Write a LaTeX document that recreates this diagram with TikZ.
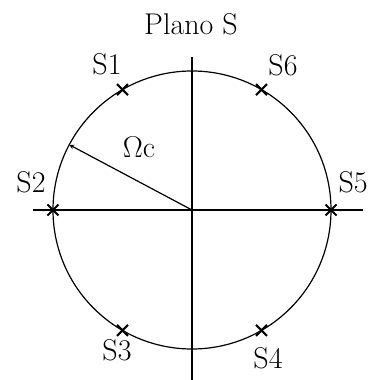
\RequirePackage{fix-cm}
\documentclass[tikz,border=0pt]{standalone}
\usepackage{tikz}
\usetikzlibrary{shapes.misc}

\tikzset{
    pole/.style={cross out, draw, line width=2pt, minimum size=9pt, inner sep=0pt},
    lbl/.style={inner sep=0pt, font=\fontsize{30}{36}\selectfont}
}

\begin{document}
\begin{tikzpicture}[x=1pt, y=1pt, line width=1.2pt]
    \useasboundingbox (-192,-170) rectangle (177,210);
    \def\R{139}

    \coordinate (O) at (0,0);

    % The axes
    \coordinate (xl) at (-159,0);
    \coordinate (xr) at (171,0);
    \coordinate (yt) at (0,153);
    \coordinate (yb) at (0,-172);
    \draw (xl) -- (xr);
    \draw (yt) -- (yb);

    % The circle of radius Omega_c
    \draw (O) circle (\R);
    \node[lbl] (title) at (-1,186) {Plano S};

    % The poles
    \node[pole] (s1) at (120:\R) {};
    \node[pole] (s2) at (180:\R) {};
    \node[pole] (s3) at (240:\R) {};
    \node[pole] (s4) at (300:\R) {};
    \node[pole] (s5) at (0:\R) {};
    \node[pole] (s6) at (60:\R) {};

    \node[lbl] (l1) at (-85,146) {S1};
    \node[lbl] (l2) at (-161,28) {S2};
    \node[lbl] (l3) at (-75,-140) {S3};
    \node[lbl] (l4) at (76,-148) {S4};
    \node[lbl, anchor=west] (l5) at (146,28) {S5};
    \node[lbl] (l6) at (91,145) {S6};

    % The radius
    \coordinate (rc) at (152:\R);
    \draw[->, >=stealth] (O) -- (rc);
    \node[lbl] (wc) at (-53,63) {$\Omega$c};
\end{tikzpicture}
\end{document}
